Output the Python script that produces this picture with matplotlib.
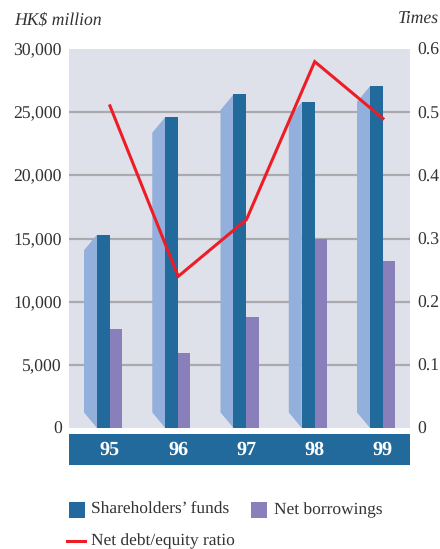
import matplotlib
matplotlib.use('Agg')
import numpy as np
import matplotlib.pyplot as plt
from matplotlib.patches import Polygon, Rectangle
from matplotlib.transforms import blended_transform_factory

years = ['95', '96', '97', '98', '99']
funds = [15300, 24600, 26400, 25800, 27050]
borrowings = [7850, 5900, 8800, 15000, 13200]
ratio = [0.51, 0.24, 0.33, 0.58, 0.49]

left_ticks = [0, 5000, 10000, 15000, 20000, 25000, 30000]
right_ticks = [0, 0.1, 0.2, 0.3, 0.4, 0.5, 0.6]

DARK = '#22699c'
PURPLE = '#8980bb'
LIGHT = '#93afdb'
BG = '#dfe1ea'
GRID = '#a9a9ae'
RED = '#ee1c25'
TEXT = '#333333'

plt.rcParams['font.family'] = ['Liberation Serif', 'DejaVu Serif']
plt.rcParams['text.hinting'] = 'no_hinting'

W, H = 440, 549
fig = plt.figure(figsize=(W / 100, H / 100), dpi=100)

# main plot area, in pixel terms 69..410 across and 49..428 down
ax = fig.add_axes([69 / W, (H - 428) / H, 341 / W, 379 / H])
ax.set_facecolor(BG)
ax.set_xlim(-0.6, 4.396)
ax.set_ylim(0, 30000)

x = np.arange(len(years))
w = 0.19
depth = 1230  # slant of the fake 3D side

ax.yaxis.grid(True, color=GRID, linewidth=1.6)
ax.set_axisbelow(True)

# light side face next to each dark bar
for xi, v in zip(x, funds):
    ax.add_patch(Polygon([(xi - w, 0), (xi - 2 * w, depth), (xi - 2 * w, v - depth), (xi - w, v)],
                         closed=True, facecolor=LIGHT, edgecolor='none', zorder=2))

ax.bar(x - w / 2, funds, w, color=DARK, zorder=3)
ax.bar(x + w / 2 - 0.005, borrowings, w - 0.01, color=PURPLE, zorder=3)

ax.set_xticks([])
ax.set_yticks(left_ticks)
ax.set_yticklabels([f'{t:,}' for t in left_ticks], fontsize=12.7, color=TEXT)
ax.tick_params(axis='y', length=0, pad=5)
# no rule at the very top and bottom of the plot
gridlines = ax.get_ygridlines()
gridlines[0].set_visible(False)
gridlines[-1].set_visible(False)
for s in ax.spines.values():
    s.set_visible(False)

ax2 = ax.twinx()
ax2.set_ylim(0, 0.6)
ax2.set_yticks(right_ticks)
ax2.set_yticklabels(['0'] + [f'{t:.1f}' for t in right_ticks[1:]], fontsize=12.7, color=TEXT)
ax2.tick_params(axis='y', length=0, pad=5)
for s in ax2.spines.values():
    s.set_visible(False)
ax2.plot(x, ratio, color=RED, linewidth=2.2, solid_joinstyle='miter', zorder=5)

# year band below the plot
band = fig.add_axes([69 / W, (H - 465) / H, 341 / W, 31 / H], sharex=ax)
band.set_facecolor(DARK)
band.tick_params(left=False, bottom=False, labelleft=False, labelbottom=False)
for s in band.spines.values():
    s.set_visible(False)
tr = blended_transform_factory(band.transData, band.transAxes)
for xi, y in zip(x, years):
    band.text(xi, 0.47, y, transform=tr, ha='center', va='center', color='white',
              fontsize=14.5, fontweight='bold')

# overlay in pixel coordinates for the unit titles and legend
over = fig.add_axes([0, 0, 1, 1])
over.set_xlim(0, W)
over.set_ylim(H, 0)
over.axis('off')
over.patch.set_alpha(0)

over.text(14, 20, 'HK$ million', fontsize=12.7, style='italic', color=TEXT, va='center')
over.text(439, 20, 'Times', fontsize=12.7, style='italic', color=TEXT, va='center', ha='right')

over.add_patch(Rectangle((69, 502), 16, 16, facecolor=DARK, edgecolor='none'))
over.text(91, 510, "Shareholders\u2019 funds", fontsize=12.5, color=TEXT, va='center')
over.add_patch(Rectangle((251, 502), 16, 16, facecolor=PURPLE, edgecolor='none'))
over.text(274, 510, 'Net borrowings', fontsize=12.5, color=TEXT, va='center')
over.plot([67, 85], [541, 541], color=RED, linewidth=2.2)
over.text(91, 541, 'Net debt/equity ratio', fontsize=12.5, color=TEXT, va='center')

fig.savefig('out.png', dpi=100)
